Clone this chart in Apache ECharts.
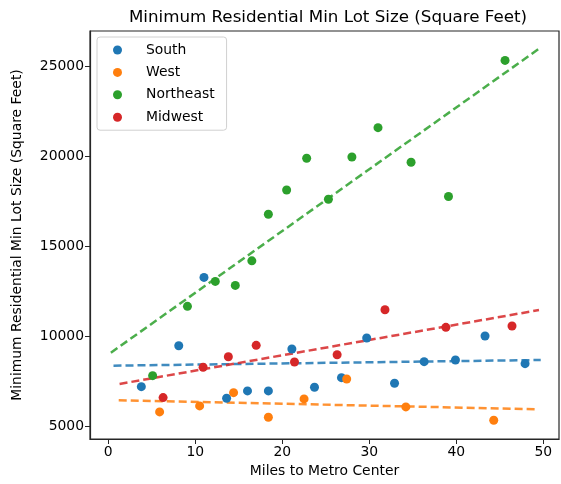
<!DOCTYPE html>
<html>
<head>
<meta charset="utf-8">
<script src="https://cdn.jsdelivr.net/npm/echarts@6/dist/echarts.min.js"></script>
<style>
  html, body { margin: 0; padding: 0; background: #fff; }
  #chart { width: 561px; height: 484px; }
</style>
</head>
<body>
<div id="chart"></div>
<script>
// Region names and colours
const regions = ['South', 'West', 'Northeast', 'Midwest'];
const colors = ['#1f77b4', '#ff7f0e', '#2ca02c', '#d62728'];

// Observations: [miles to metro center, minimum lot size in sq ft]
const southPoints = [
  [3.8, 7206], [8.1, 9479], [11.0, 13271], [13.6, 6563], [16.0, 6968],
  [18.4, 6968], [21.1, 9296], [23.7, 7173], [26.8, 7705], [29.7, 9906],
  [32.9, 7395], [36.3, 8592], [39.9, 8686], [43.3, 10017], [47.9, 8481]
];
const westPoints = [
  [5.9, 5804], [10.5, 6136], [14.4, 6874], [18.4, 5510],
  [22.5, 6524], [27.4, 7633], [34.2, 6081], [44.3, 5344]
];
const northeastPoints = [
  [5.1, 7816], [9.1, 11663], [12.3, 13049], [14.6, 12827], [16.5, 14191],
  [18.4, 16780], [20.5, 18126], [22.8, 19884], [25.3, 17611], [28.0, 19956],
  [31.0, 21585], [34.8, 19662], [39.1, 17760], [45.6, 25316]
];
const midwestPoints = [
  [6.3, 6597], [10.9, 8281], [13.8, 8869], [17.0, 9501], [21.4, 8575],
  [26.3, 8980], [31.8, 11475], [38.8, 10499], [46.4, 10571]
];

// Fitted trend lines: start and end points
const southTrend = [[0.6, 8370], [49.7, 8686]];
const westTrend = [[1.2, 6452], [49.2, 5953]];
const northeastTrend = [[0.3, 9091], [49.5, 25965]];
const midwestTrend = [[1.3, 7356], [49.5, 11458]];

// Tick labels
const xTicks = [0, 10, 20, 30, 40, 50];
const yTicks = [5000, 10000, 15000, 20000, 25000];

const pointSets = [southPoints, westPoints, northeastPoints, midwestPoints];
const trendSets = [southTrend, westTrend, northeastTrend, midwestTrend];

const font = 'DejaVu Sans';
const axisColor = '#262626';

const series = [];
trendSets.forEach((t, i) => {
  series.push({
    name: regions[i] + ' trend',
    type: 'line',
    data: t,
    showSymbol: false,
    symbol: 'none',
    silent: true,
    z: 1,
    lineStyle: { color: colors[i], width: 2.5, type: [8, 4], opacity: 0.85 }
  });
});
pointSets.forEach((p, i) => {
  series.push({
    name: regions[i],
    type: 'scatter',
    data: p,
    symbol: 'circle',
    symbolSize: 9,
    z: 3,
    itemStyle: { color: colors[i], opacity: 1 }
  });
});

const chart = echarts.init(document.getElementById('chart'), null, { renderer: 'canvas' });
chart.setOption({
  animation: false,
  backgroundColor: '#fff',
  color: colors,
  title: {
    text: 'Minimum Residential Min Lot Size (Square Feet)',
    left: 323,
    top: 4,
    textAlign: 'center',
    textStyle: { fontFamily: font, fontSize: 16.7, fontWeight: 'normal', color: '#000' }
  },
  legend: {
    data: regions,
    orient: 'vertical',
    left: 97,
    top: 37,
    itemWidth: 9,
    itemHeight: 9,
    itemGap: 6.4,
    icon: 'circle',
    padding: [5, 12, 5, 16],
    backgroundColor: 'rgba(255,255,255,0.8)',
    borderColor: '#d0d0d0',
    borderWidth: 1,
    borderRadius: 3,
    textStyle: { fontFamily: font, fontSize: 13.9, color: '#000', lineHeight: 16, padding: [0, 0, 0, 19] }
  },
  grid: {
    left: 90, right: 2, top: 31, bottom: 45,
    show: true, borderColor: axisColor, borderWidth: 1.2, backgroundColor: 'transparent'
  },
  xAxis: {
    type: 'value',
    min: -2.1,
    max: 51.8,
    name: 'Miles to Metro Center',
    nameLocation: 'middle',
    nameGap: 24,
    nameTextStyle: { fontFamily: font, fontSize: 13.9, color: '#000' },
    splitLine: { show: false },
    axisLine: { show: true, onZero: false, lineStyle: { color: axisColor, width: 1.2 } },
    axisTick: { show: true, length: 5, customValues: xTicks, lineStyle: { color: axisColor } },
    axisLabel: { customValues: xTicks, fontFamily: font, fontSize: 13.9, color: '#000', margin: 6 }
  },
  yAxis: {
    type: 'value',
    min: 4300,
    max: 26950,
    name: 'Minimum Residential Min Lot Size (Square Feet)',
    nameLocation: 'middle',
    nameGap: 66,
    nameTextStyle: { fontFamily: font, fontSize: 13.9, color: '#000' },
    splitLine: { show: false },
    axisLine: { show: true, onZero: false, lineStyle: { color: axisColor, width: 1.2 } },
    axisTick: { show: true, length: 5, customValues: yTicks, lineStyle: { color: axisColor } },
    axisLabel: {
      customValues: yTicks, fontFamily: font, fontSize: 13.9, color: '#000', margin: 6,
      formatter: (v) => String(Math.round(v))
    }
  },
  series: series
});
</script>
</body>
</html>
